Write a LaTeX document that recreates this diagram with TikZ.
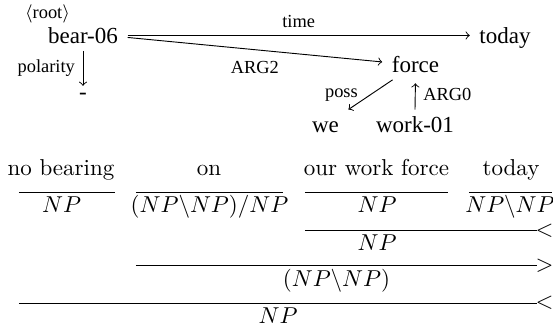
\documentclass[tikz,border=0pt]{standalone}
\usepackage{fontspec}
\newfontfamily\amrfont{Liberation Serif}
\usetikzlibrary{calc}
\begin{document}
\begin{tikzpicture}[x=0.4348pt,y=-0.4348pt,
  amr/.style={font=\amrfont, anchor=base, inner xsep=4pt, inner ysep=3pt, text height=7pt, text depth=0pt},
  lbl/.style={font=\amrfont\footnotesize},
  ccg/.style={anchor=base, inner sep=0pt},
  rulesym/.style={right, inner sep=0pt, xshift=-0.8pt}]
\useasboundingbox (0,0) rectangle (553,331);

% AMR graph
\node[amr] (bear) at (83,43.5) {bear-06};
\node[amr] (today) at (505,43.5) {today};
\node[amr] (force) at (415.5,72.5) {force};
\node[amr] (we) at (325.5,133) {we};
\node[amr] (work) at (415,133) {work-01};
\node[font=\amrfont, anchor=base, inner xsep=4pt, inner ysep=3pt] (minus) at (83,99.5) {-};
\node[lbl, inner sep=0pt] (root) at (47.5,13.5) {$\langle$root$\rangle$};

\draw[->] (bear.east) -- (bear.east -| today.west) node[lbl, midway, above] {time};
\draw[->] ($(bear.east)+(0,2)$) -- ($(force.west)+(0,-2.5)$) node[lbl, midway, below=1.7pt] {ARG2};
\draw[->] (bear.south) -- (minus.north) node[lbl, midway, left] {polarity};
\draw[->] (force) -- (we) node[lbl, pos=0.5, left=2pt] {poss};
\draw[->, shorten >=1.5pt] (work.north) -- (force.south) node[lbl, midway, right] {ARG0};

% CCG derivation
\node[ccg] (w1) at (61,175.5) {no bearing};
\node[ccg] (w2) at (209,175.5) {on};
\node[ccg] (w3) at (376.5,175.5) {our work force};
\node[ccg] (w4) at (511,175.5) {today};

\draw (19,192) -- (115,192);
\draw (136,192) -- (283,192);
\draw (305,192) -- (448,192);
\draw (469,192) -- (552,192);

\node[ccg] (c1) at (61.5,212.5) {$NP$};
\node[ccg] (c2) at (209.5,212.5) {$(NP\backslash NP)/NP$};
\node[ccg] (c3) at (377,212.5) {$NP$};
\node[ccg] (c4) at (510,212.5) {$NP\backslash NP$};

\draw (305,230.5) -- (537,230.5) node[rulesym] {$<$};
\node[ccg] (r1) at (377,251) {$NP$};

\draw (136,265.5) -- (537,265.5) node[rulesym] {$>$};
\node[ccg] (r2) at (336.5,287) {$(NP\backslash NP)$};

\draw (19,303) -- (537,303) node[rulesym] {$<$};
\node[ccg] (r3) at (278,324) {$NP$};
\end{tikzpicture}
\end{document}
